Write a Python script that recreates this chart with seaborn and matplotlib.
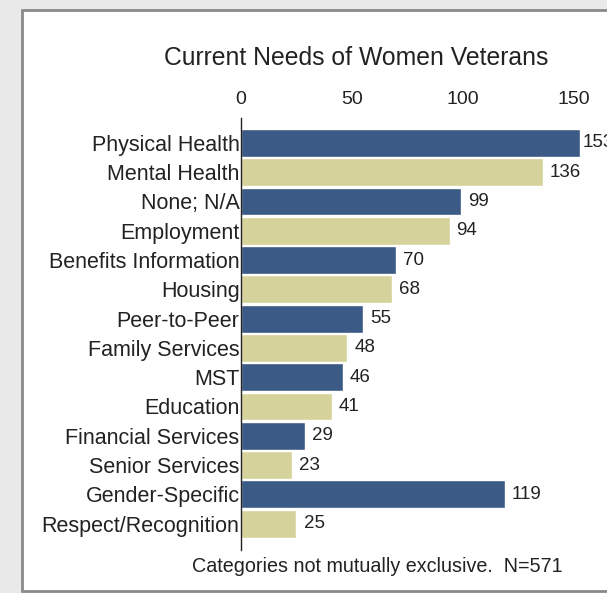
import matplotlib
matplotlib.use("Agg")
import matplotlib.pyplot as plt
import seaborn as sns
import pandas as pd
from matplotlib.patches import Rectangle

# ===================== data =====================
categories = ["Physical Health", "Mental Health", "None; N/A", "Employment",
              "Benefits Information", "Housing", "Peer-to-Peer", "Family Services",
              "MST", "Education", "Financial Services", "Senior Services",
              "Gender-Specific", "Respect/Recognition"]
counts = [153, 136, 99, 94, 70, 68, 55, 48, 46, 41, 29, 23, 119, 25]
x_ticks = [0, 50, 100, 150]

blue = "#3b5a85"
tan = "#d5d29b"
palette = [blue if i % 2 == 0 else tan for i in range(len(categories))]

df = pd.DataFrame({"Need": categories, "Count": counts})

# ===================== figure =====================
sns.set_style("white")
plt.rcParams["font.family"] = ["Liberation Sans", "DejaVu Sans"]

fig = plt.figure(figsize=(6.07, 5.93), dpi=100, facecolor="#e9e9e9")
fig.patches.append(Rectangle((0.036, 0.003), 1.0, 0.98, transform=fig.transFigure,
                             facecolor="white", edgecolor="#8a8a8a", lw=2, zorder=-5))

ax = fig.add_axes([0.397, 0.0725, 0.603, 0.7285])
ax.set_facecolor("none")
sns.barplot(data=df, x="Count", y="Need", hue="Need", palette=palette,
            legend=False, width=0.95, saturation=1, ax=ax)

xmax = 165
ax.set_xlim(0, xmax)
ax.set_ylim(len(categories) - 0.1, -0.85)
ax.xaxis.tick_top()
ax.set_xticks(x_ticks)
ax.tick_params(axis="x", length=0, labelsize=14, pad=7, colors="#222222")
ax.tick_params(axis="y", length=0, labelsize=15.5, pad=1, colors="#222222")
ax.set_xlabel("")
ax.set_ylabel("")
for s in ["top", "right", "bottom"]:
    ax.spines[s].set_visible(False)
ax.spines["left"].set_color("#222222")
ax.spines["left"].set_linewidth(1)

# value labels (squeezed against the edge when there is no room)
for i, v in enumerate(counts):
    ax.text(min(v + 3.2, v + 0.8 if v > 150 else v + 3.2), i, str(v),
            va="center", ha="left", fontsize=13.5, color="#222222", clip_on=False)

fig.text(0.587, 0.902, "Current Needs of Women Veterans", ha="center",
         va="center", fontsize=17.8, color="#222222")
fig.text(0.621, 0.045, "Categories not mutually exclusive.  N=571", ha="center",
         va="center", fontsize=14.2, color="#222222")

fig.savefig("out.png", dpi=100, facecolor=fig.get_facecolor())
